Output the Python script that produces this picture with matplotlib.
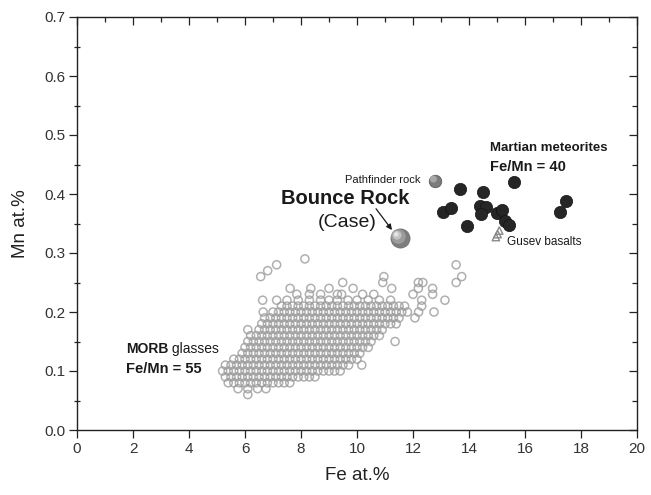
import matplotlib
matplotlib.use("Agg")
import matplotlib.pyplot as plt
import matplotlib.transforms as mtransforms

plt.rcParams['font.family'] = ['Liberation Sans', 'DejaVu Sans']

# MORB glasses: Mn rows and the Fe values read along each row
morb_mn = [0.06, 0.07, 0.08, 0.09, 0.10, 0.11, 0.12, 0.13, 0.14, 0.15, 0.16, 0.17,
           0.18, 0.19, 0.20, 0.21, 0.22, 0.23, 0.24, 0.25, 0.26, 0.27, 0.28, 0.29]
morb_fe = [
    [6.10],
    [5.75, 6.10, 6.45, 6.75],
    [5.4, 5.6, 5.8, 6.0, 6.2, 6.4, 6.6, 6.8, 7.0, 7.2, 7.4, 7.6],
    [5.3, 5.5, 5.7, 5.9, 6.1, 6.3, 6.5, 6.7, 6.9, 7.1, 7.3, 7.5, 7.7, 7.9, 8.1, 8.3, 8.5],
    [5.2, 5.4, 5.6, 5.8, 6.0, 6.2, 6.4, 6.6, 6.8, 7.0, 7.2, 7.4, 7.6, 7.8, 8.0, 8.2, 8.4,
     8.6, 8.8, 9.0, 9.2, 9.4],
    [5.3, 5.5, 5.7, 5.9, 6.1, 6.3, 6.5, 6.7, 6.9, 7.1, 7.3, 7.5, 7.7, 7.9, 8.1, 8.3, 8.5,
     8.7, 8.9, 9.1, 9.3, 9.5, 9.7, 10.17],
    [5.6, 5.8, 6.0, 6.2, 6.4, 6.6, 6.8, 7.0, 7.2, 7.4, 7.6, 7.8, 8.0, 8.2, 8.4, 8.6, 8.8,
     9.0, 9.2, 9.4, 9.6, 9.8, 10.0],
    [5.9, 6.1, 6.3, 6.5, 6.7, 6.9, 7.1, 7.3, 7.5, 7.7, 7.9, 8.1, 8.3, 8.5, 8.7, 8.9, 9.1,
     9.3, 9.5, 9.7, 9.9, 10.1],
    [6.0, 6.2, 6.4, 6.6, 6.8, 7.0, 7.2, 7.4, 7.6, 7.8, 8.0, 8.2, 8.4, 8.6, 8.8, 9.0, 9.2,
     9.4, 9.6, 9.8, 10.0, 10.2, 10.4],
    [6.1, 6.3, 6.5, 6.7, 6.9, 7.1, 7.3, 7.5, 7.7, 7.9, 8.1, 8.3, 8.5, 8.7, 8.9, 9.1, 9.3,
     9.5, 9.7, 9.9, 10.1, 10.3, 10.5, 11.36],
    [6.2, 6.4, 6.6, 6.8, 7.0, 7.2, 7.4, 7.6, 7.8, 8.0, 8.2, 8.4, 8.6, 8.8, 9.0, 9.2, 9.4,
     9.6, 9.8, 10.0, 10.2, 10.4, 10.6, 10.8],
    [6.1, 6.5, 6.7, 6.9, 7.1, 7.3, 7.5, 7.7, 7.9, 8.1, 8.3, 8.5, 8.7, 8.9, 9.1, 9.3, 9.5,
     9.7, 9.9, 10.1, 10.3, 10.5, 10.7, 10.9],
    [6.6, 6.8, 7.0, 7.2, 7.4, 7.6, 7.8, 8.0, 8.2, 8.4, 8.6, 8.8, 9.0, 9.2, 9.4, 9.6, 9.8,
     10.0, 10.2, 10.4, 10.6, 10.8, 11.0, 11.2, 11.4],
    [6.7, 6.9, 7.1, 7.3, 7.5, 7.7, 7.9, 8.1, 8.3, 8.5, 8.7, 8.9, 9.1, 9.3, 9.5, 9.7, 9.9,
     10.1, 10.3, 10.5, 10.7, 10.9, 11.1, 11.3, 11.5, 12.07],
    [6.65, 7.0, 7.2, 7.4, 7.6, 7.8, 8.0, 8.2, 8.4, 8.6, 8.8, 9.0, 9.2, 9.4, 9.6, 9.8, 10.0,
     10.2, 10.4, 10.6, 10.8, 11.0, 11.2, 11.4, 11.6, 11.8, 12.2, 12.75],
    [7.3, 7.5, 7.7, 7.9, 8.1, 8.3, 8.5, 8.7, 8.9, 9.1, 9.3, 9.5, 9.7, 9.9, 10.1, 10.3, 10.5,
     10.7, 10.9, 11.1, 11.3, 11.5, 11.7, 12.31],
    [6.63, 7.13, 7.5, 7.9, 8.3, 8.7, 9.0, 9.3, 9.68, 10.0, 10.4, 10.8, 11.2, 12.31, 13.14],
    [7.85, 8.3, 8.7, 9.3, 9.45, 10.2, 10.6, 12.0, 12.7],
    [7.61, 8.35, 9.0, 9.86, 11.24, 12.19, 12.7],
    [9.49, 10.92, 12.19, 12.35, 13.54],
    [6.56, 10.96, 13.74],
    [6.81],
    [7.13, 13.54],
    [8.14],
]

# Martian meteorites
mars_fe = [13.68, 14.49, 15.61, 13.06, 13.35, 14.39, 14.61, 14.44, 15.01, 15.18,
           13.92, 15.29, 15.44, 17.25, 17.46]
mars_mn = [0.408, 0.403, 0.421, 0.370, 0.376, 0.380, 0.378, 0.366, 0.368, 0.373,
           0.346, 0.355, 0.347, 0.369, 0.388]

# Gusev basalts
gusev_fe = [14.96, 15.02, 15.08]
gusev_mn = [0.327, 0.332, 0.338]

# Pathfinder rock and Bounce Rock
pathfinder_fe, pathfinder_mn = 12.79, 0.4225
bounce_fe, bounce_mn = 11.54, 0.325

x_ticks = [0, 2, 4, 6, 8, 10, 12, 14, 16, 18, 20]
y_ticks = [0.0, 0.1, 0.2, 0.3, 0.4, 0.5, 0.6, 0.7]

fig = plt.figure(figsize=(6.51, 4.95), dpi=100)
ax = fig.add_axes([77 / 651, 65 / 495, 560 / 651, 413 / 495])

# MORB cloud
for mn, fes in zip(morb_mn, morb_fe):
    ax.scatter(fes, [mn] * len(fes), s=34, facecolors='none', edgecolors='#9c9c9c',
               linewidths=1.1, alpha=0.8, zorder=2)

ax.scatter(mars_fe, mars_mn, s=78, c='#262626', edgecolors='#111111', linewidths=0.5, zorder=3)
ax.scatter(gusev_fe, gusev_mn, s=28, marker='^', facecolors='none', edgecolors='#8a8a8a',
           linewidths=1.0, zorder=3)

# shaded spheres: base disc plus lighter highlights shifted up-left
def shifted(dx, dy):
    return ax.transData + mtransforms.ScaledTranslation(dx / 72, dy / 72, fig.dpi_scale_trans)

ax.scatter([pathfinder_fe], [pathfinder_mn], s=80, c='#7c7c7c', edgecolors='#5a5a5a',
           linewidths=0.6, zorder=3)
ax.scatter([pathfinder_fe], [pathfinder_mn], s=25, c='#a8a8a8', edgecolors='none',
           transform=shifted(-1.2, 1.2), zorder=3)

ax.scatter([bounce_fe], [bounce_mn], s=190, c='#7d7d7d', edgecolors='#6a6a6a',
           linewidths=0.5, zorder=3)
ax.scatter([bounce_fe], [bounce_mn], s=110, c='#9c9c9c', edgecolors='none',
           transform=shifted(-1.2, 1.2), zorder=3)
ax.scatter([bounce_fe], [bounce_mn], s=40, c='#c4c4c4', edgecolors='none',
           transform=shifted(-2.2, 2.2), zorder=3)
ax.scatter([bounce_fe], [bounce_mn], s=10, c='#e6e6e6', edgecolors='none',
           transform=shifted(-2.8, 2.8), zorder=3)

# labels
ax.text(9.57, 0.393, 'Bounce Rock', fontsize=14.5, fontweight='bold', ha='center',
        va='center', color='#1a1a1a')
ax.text(9.64, 0.352, '(Case)', fontsize=14, ha='center', va='center', color='#1a1a1a')
ax.annotate('', xy=(11.25, 0.339), xytext=(10.68, 0.375),
            arrowprops=dict(arrowstyle='-|>', color='#1a1a1a', lw=0.9,
                            mutation_scale=8, shrinkA=0, shrinkB=0))
ax.text(9.57, 0.424, 'Pathfinder rock', fontsize=8, ha='left', va='center', color='#1a1a1a')
ax.text(14.75, 0.478, 'Martian meteorites', fontsize=9.5, fontweight='bold', ha='left',
        va='center', color='#1a1a1a')
ax.text(14.75, 0.446, 'Fe/Mn = 40', fontsize=10.5, fontweight='bold', ha='left',
        va='center', color='#1a1a1a')
ax.text(15.36, 0.319, 'Gusev basalts', fontsize=8.5, ha='left', va='center', color='#1a1a1a')
t_morb = ax.text(1.75, 0.137, 'MORB', fontsize=10, fontweight='bold', ha='left',
                 va='center', color='#1a1a1a')
ax.annotate(' glasses', xy=(1, 0), xycoords=t_morb, fontsize=10, ha='left',
            va='bottom', color='#1a1a1a')
ax.text(1.75, 0.103, 'Fe/Mn = 55', fontsize=10.5, fontweight='bold', ha='left',
        va='center', color='#1a1a1a')

ax.set_xlim(0, 20)
ax.set_ylim(0, 0.7)
ax.set_xticks(x_ticks)
ax.set_yticks(y_ticks)
ax.set_yticks([0.05, 0.15, 0.25, 0.35, 0.45, 0.55, 0.65], minor=True)
ax.set_yticklabels([f'{v:.1f}' for v in y_ticks])
ax.tick_params(axis='both', which='major', direction='out', length=5.5, width=0.9,
               color='#222222', labelsize=11, labelcolor='#333333', pad=3)
ax.tick_params(axis='y', which='minor', direction='inout', length=4, width=0.9, color='#222222')
ax.set_xlabel('Fe at.%', fontsize=13.5, color='#222222', labelpad=8)
ax.set_ylabel('Mn at.%', fontsize=13.5, color='#222222', labelpad=11)
for sp in ax.spines.values():
    sp.set_linewidth(1.0)
    sp.set_color('#222222')

# top and right ticks point inward
ax_top = ax.twiny()
ax_top.set_xlim(0, 20)
ax_top.set_xticks(x_ticks)
ax_top.set_xticks([1, 3, 5, 7, 9, 11, 13, 15, 17, 19], minor=True)
ax_top.tick_params(axis='x', which='major', direction='in', length=6, width=0.9,
                   color='#222222', labeltop=False)
ax_top.tick_params(axis='x', which='minor', direction='in', length=3.5, width=0.9,
                   color='#222222')
ax_right = ax.twinx()
ax_right.set_ylim(0, 0.7)
ax_right.set_yticks(y_ticks)
ax_right.set_yticks([0.05, 0.15, 0.25, 0.35, 0.45, 0.55, 0.65], minor=True)
ax_right.tick_params(axis='y', which='major', direction='in', length=6, width=0.9,
                     color='#222222', labelright=False)
ax_right.tick_params(axis='y', which='minor', direction='in', length=3.5, width=0.9,
                     color='#222222')
for a in (ax_top, ax_right):
    for sp in a.spines.values():
        sp.set_visible(False)

fig.savefig('out.png', dpi=100)
